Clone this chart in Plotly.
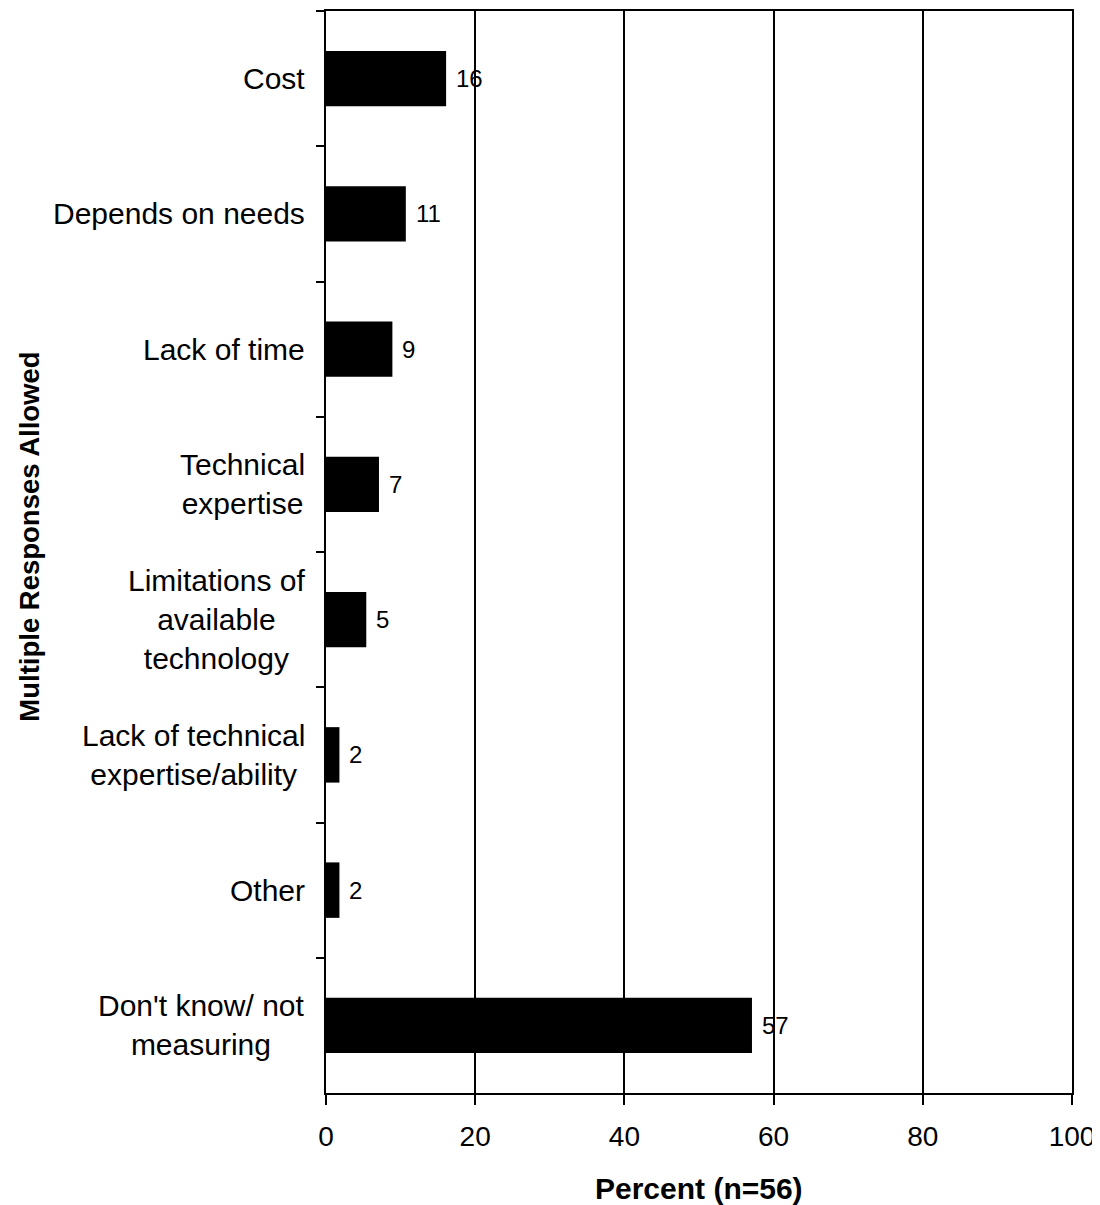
import plotly.graph_objects as go

categories = ["Cost", "Depends on needs", "Lack of time", "Technical<br>expertise",
              "Limitations of<br>available<br>technology", "Lack of technical<br>expertise/ability",
              "Other", "Don't know/ not<br>measuring"]
values = [16.1, 10.7, 8.9, 7.1, 5.4, 1.8, 1.8, 57.1]
x_ticks = [0, 20, 40, 60, 80, 100]

FONT = "Liberation Sans, Arial, sans-serif"

fig = go.Figure()
fig.add_trace(go.Bar(
    x=values, y=categories, orientation="h",
    marker=dict(color="black", line=dict(width=0)),
    hoverinfo="skip",
))

annotations = []
for c, v in zip(categories, values):
    annotations.append(dict(x=v, y=c, xref="x", yref="y", text=f"{v:.0f}",
                            showarrow=False, xanchor="left", yanchor="middle", xshift=8,
                            font=dict(family=FONT, size=24, color="black")))
    annotations.append(dict(x=0, y=c, xref="paper", yref="y", text=c,
                            showarrow=False, xanchor="right", yanchor="middle", xshift=-19,
                            align="center",
                            font=dict(family=FONT, size=30, color="black")))

annotations.append(dict(x=-0.397, y=0.514, xref="paper", yref="paper",
                        text="<b>Multiple Responses Allowed</b>", textangle=-90,
                        showarrow=False, xanchor="center", yanchor="middle",
                        font=dict(family=FONT, size=27.5, color="black")))
annotations.append(dict(x=0.5, y=-0.088, xref="paper", yref="paper",
                        text="<b>Percent (n=56)</b>",
                        showarrow=False, xanchor="center", yanchor="middle",
                        font=dict(family=FONT, size=30, color="black")))

fig.update_layout(
    width=1092, height=1197,
    margin=dict(l=318, r=28, t=1, b=112),
    paper_bgcolor="white", plot_bgcolor="white",
    bargap=0.59,
    showlegend=False,
    annotations=annotations,
    font=dict(family=FONT, color="black"),
)
fig.update_xaxes(
    range=[0, 100], tickvals=x_ticks, ticktext=[str(t) for t in x_ticks],
    showgrid=True, gridcolor="black", gridwidth=1.5,
    showline=True, linecolor="black", linewidth=2, mirror=True,
    ticks="outside", ticklen=10, tickwidth=2, tickcolor="black",
    ticklabelstandoff=7,
    tickfont=dict(family=FONT, size=28, color="black"),
    zeroline=False, fixedrange=True,
)
fig.update_yaxes(
    type="category", autorange="reversed",
    showticklabels=False, tickson="boundaries",
    ticks="outside", ticklen=8, tickwidth=2, tickcolor="black",
    showgrid=False, showline=True, linecolor="black", linewidth=2, mirror=True,
    zeroline=False, fixedrange=True,
)

fig.write_html("out.html")
